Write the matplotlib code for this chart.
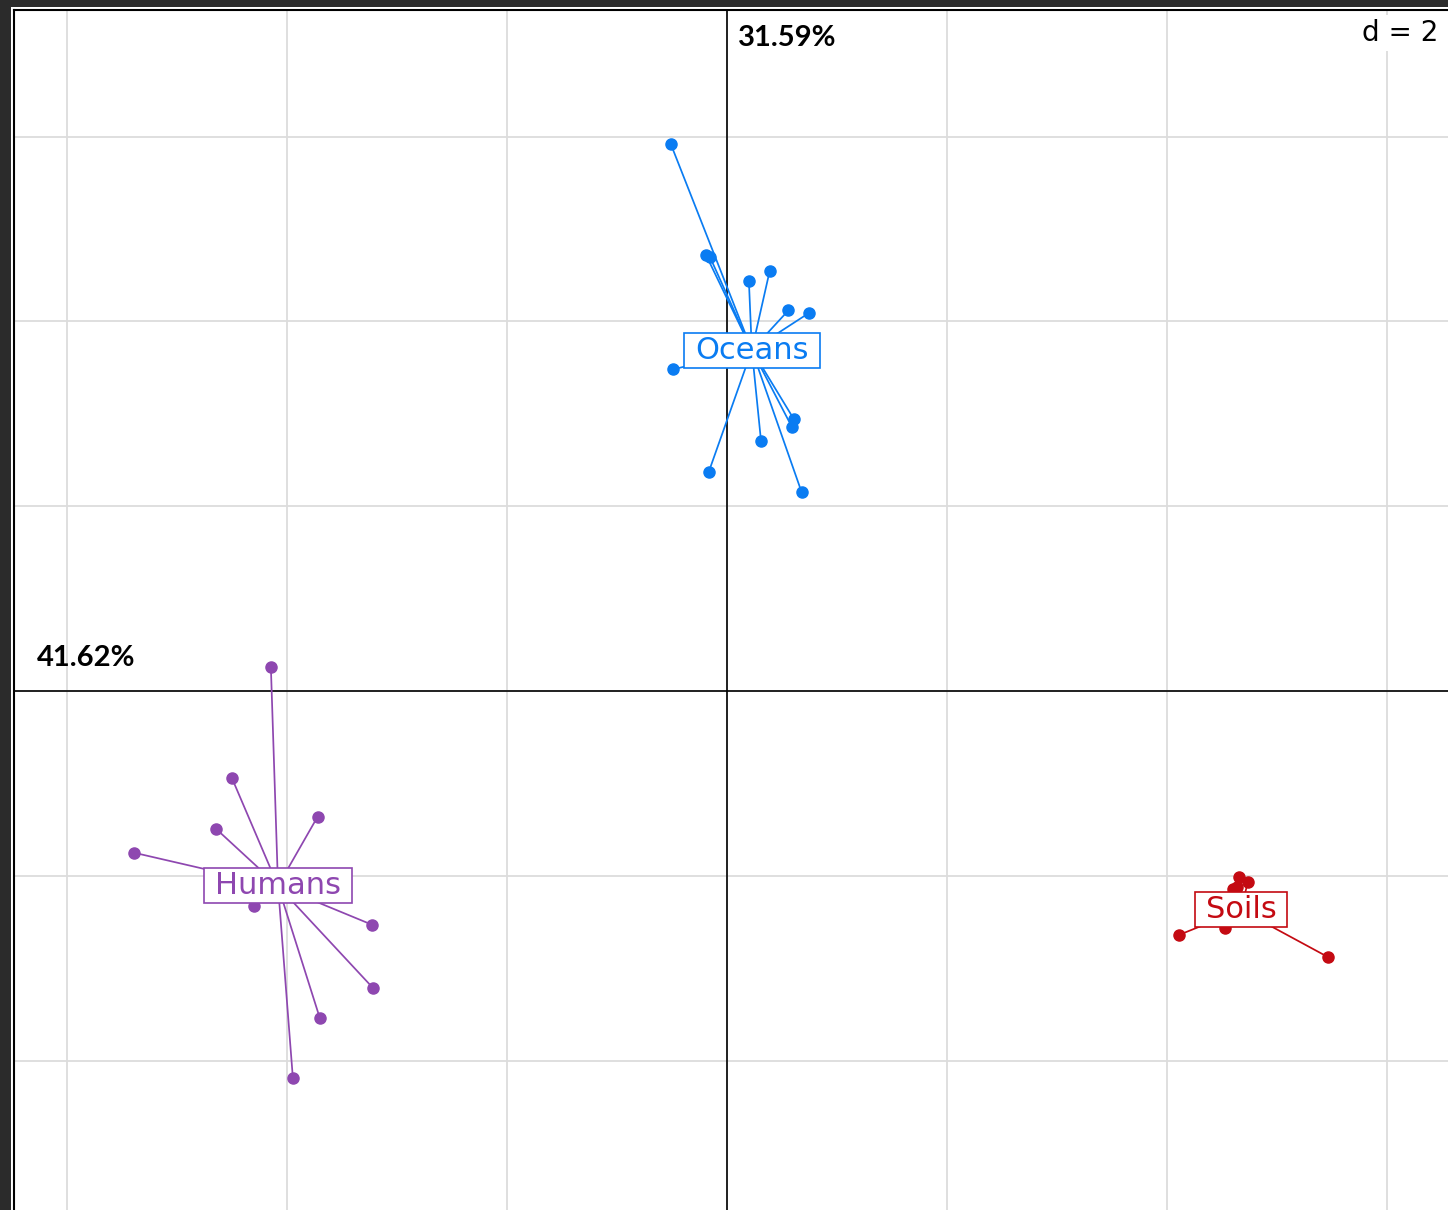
import matplotlib
matplotlib.use("Agg")
import matplotlib.pyplot as plt
from matplotlib.patches import Rectangle
from matplotlib.transforms import ScaledTranslation

# --- data (grid step d = 2) ---
groups = ["Oceans", "Humans", "Soils"]
colors = {"Oceans": "#0a7cf2", "Humans": "#8e47b0", "Soils": "#c40a12"}

oceans_x = [-0.51, -0.19, -0.155, 0.20, 0.39, 0.56, 0.745, -0.49, 0.61, 0.59, 0.31, -0.165, 0.68]
oceans_y = [5.92, 4.72, 4.70, 4.44, 4.55, 4.12, 4.09, 3.48, 2.94, 2.86, 2.71, 2.37, 2.15]

humans_x = [-4.145, -4.50, -4.645, -5.39, -3.72, -4.30, -3.225, -3.22, -3.70, -3.945]
humans_y = [0.26, -0.94, -1.49, -1.75, -1.36, -2.33, -2.53, -3.21, -3.54, -4.19]

soils_x = [4.655, 4.735, 4.60, 4.635, 4.525, 4.11, 5.465]
soils_y = [-2.01, -2.07, -2.14, -2.12, -2.56, -2.64, -2.88]

centroid_x = {"Oceans": 0.227, "Humans": -4.08, "Soils": 4.673}
centroid_y = {"Oceans": 3.69, "Humans": -2.11, "Soils": -2.37}

points = {
    "Oceans": (oceans_x, oceans_y),
    "Humans": (humans_x, humans_y),
    "Soils": (soils_x, soils_y),
}

axis1_label = "41.62%"
axis2_label = "31.59%"
grid_step = 2
grid_x = [-6, -4, -2, 0, 2, 4, 6]
grid_y = [-4, -2, 0, 2, 4, 6]

# --- figure ---
W, H = 1448, 1210
fig = plt.figure(figsize=(W / 100, H / 100), dpi=100, facecolor="#2b2b2b")
# thin white strip between dark window border and plot frame
fig.patches.append(Rectangle((11 / W, 0), 1, (H - 7) / H, transform=fig.transFigure,
                             facecolor="white", edgecolor="none", zorder=-5))

ax = fig.add_axes([14 / W, 0, 1 - 14 / W, (H - 10) / H])
ax.set_zorder(1)
ax.set_facecolor("white")
ax.set_xlim(-6.48, 6.555)
ax.set_ylim(-5.617, 7.37)

for gx in grid_x:
    ax.axvline(gx, color="#dcdcdc", lw=1.3, zorder=1)
for gy in grid_y:
    ax.axhline(gy, color="#dcdcdc", lw=1.3, zorder=1)
ax.axvline(0, color="black", lw=1.2, zorder=2)
ax.axhline(0, color="black", lw=1.2, zorder=2)

labels = {}
for g in groups:
    xs, ys = points[g]
    cx, cy = centroid_x[g], centroid_y[g]
    c = colors[g]
    for x, y in zip(xs, ys):
        ax.plot([cx, x], [cy, y], color=c, lw=1.25, zorder=3)
    ax.plot(xs, ys, "o", color=c, ms=8, mec=c, zorder=4)
    labels[g] = ax.text(cx, cy, g, color=c, fontsize=22, ha="center", va="center", zorder=6)

# label boxes: sized around the rendered text (wide and flat, as in the original)
fig.canvas.draw()
for g in groups:
    ext = labels[g].get_window_extent()
    w_in = (ext.width + 22) / 100
    h_in = 35 / 100
    tr = fig.dpi_scale_trans + ScaledTranslation(centroid_x[g], centroid_y[g], ax.transData)
    ax.add_patch(Rectangle((-w_in / 2, -h_in / 2), w_in, h_in, transform=tr,
                           facecolor="white", edgecolor=colors[g], lw=1.2, zorder=5))

ax.text(0.9935, 1 - 9 / 1200, f"d = {grid_step}", transform=ax.transAxes, ha="right", va="top",
        fontsize=20, color="black", zorder=2,
        bbox=dict(boxstyle="square,pad=0.15", fc="white", ec="none"))

ax.text(0.1, 7.07, axis2_label, fontsize=21, fontweight="bold", family="Lato",
        ha="left", va="center", zorder=7)
ax.text(-6.27, 0.357, axis1_label, fontsize=21, fontweight="bold", family="Lato",
        ha="left", va="center", zorder=7)

ax.set_xticks([])
ax.set_yticks([])
for side in ["right", "bottom"]:
    ax.spines[side].set_visible(False)
for side in ["left", "top"]:
    ax.spines[side].set_color("black")
    ax.spines[side].set_linewidth(1.5)

fig.savefig("out.png", dpi=100, facecolor=fig.get_facecolor())
